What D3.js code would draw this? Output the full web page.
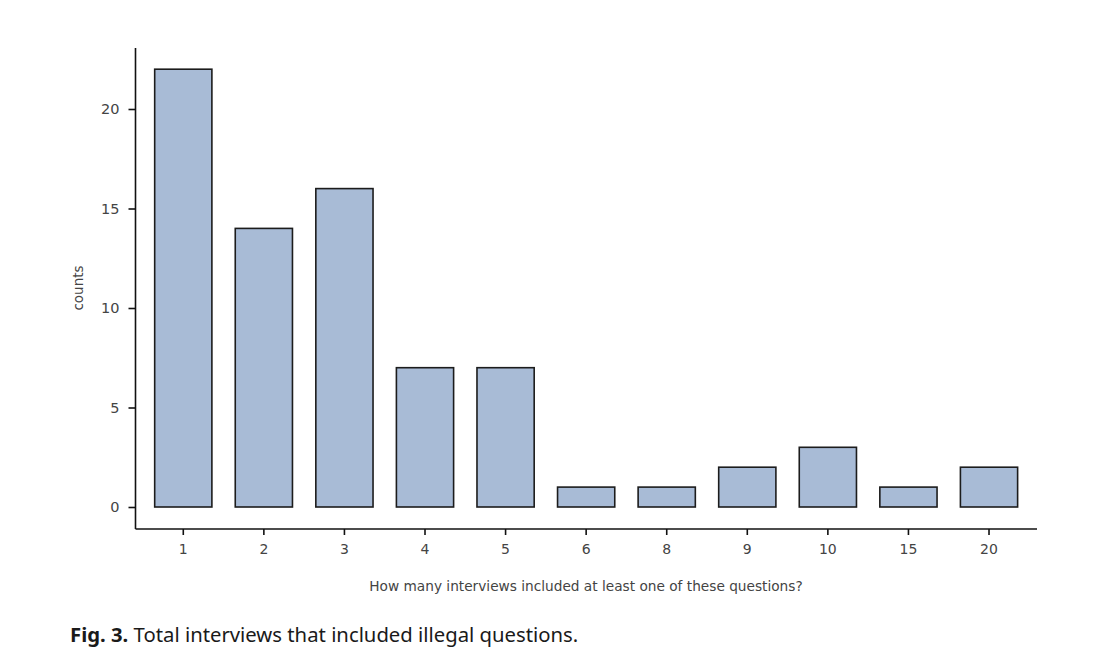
<!DOCTYPE html>
<html>
<head>
<meta charset="utf-8">
<script src="https://cdn.jsdelivr.net/npm/d3@7"></script>
<style>
  body { margin:0; background:#fff; }
  .axis text { font-family: "DejaVu Sans", sans-serif; fill:#444; }
</style>
</head>
<body>
<div id="chart"></div>
<script>
// how many interviews had at least one illegal question -> how many people said that
const categories = ["1","2","3","4","5","6","8","9","10","15","20"];
const counts = [22,14,16,7,7,1,1,2,3,1,2];
const yTicks = [0,5,10,15,20];

const W = 1116, H = 665;
const svg = d3.select("#chart").append("svg").attr("width", W).attr("height", H);

// scales are in page pixels, band range picked so tick centers land where the figure has them
const x = d3.scaleBand().domain(categories).range([143, 1029.3])
  .paddingInner(0.29).paddingOuter(0.145);
const y = d3.scaleLinear().domain([0, 20]).range([507, 109]);

// bars first so axes sit on top
svg.selectAll("rect.bar")
  .data(categories.map((c,i)=>({c, v:counts[i]})))
  .enter().append("rect")
  .attr("class","bar")
  .attr("x", d=>x(d.c))
  .attr("y", d=>y(d.v))
  .attr("width", x.bandwidth())
  .attr("height", d=>y(0)-y(d.v))
  .attr("fill","#a8bbd6")
  .attr("stroke","#1c1c1c")
  .attr("stroke-width",1.6);

// y axis: plain line from top of plot down past the zero a bit
const gy = svg.append("g").attr("class","axis").attr("transform","translate(135.5,0)");
gy.call(d3.axisLeft(y).tickValues(yTicks).tickSize(7).tickPadding(9));
gy.select(".domain").remove();
gy.append("line").attr("x1",0).attr("x2",0).attr("y1",48).attr("y2",529)
  .attr("stroke","#111").attr("stroke-width",1.6);
gy.selectAll(".tick line").attr("stroke","#111").attr("stroke-width",1.6);
gy.selectAll("text").style("font-size","14.5px");

// x axis
const gx = svg.append("g").attr("class","axis").attr("transform","translate(0,529)");
gx.call(d3.axisBottom(x).tickSize(6).tickPadding(9));
gx.select(".domain").remove();
gx.append("line").attr("x1",135.5).attr("x2",1037).attr("y1",0).attr("y2",0)
  .attr("stroke","#111").attr("stroke-width",1.6);
gx.selectAll(".tick line").attr("stroke","#111").attr("stroke-width",1.6);
gx.selectAll("text").style("font-size","14px");

// axis titles
svg.append("text").attr("x",586).attr("y",591).attr("text-anchor","middle")
  .attr("font-family","DejaVu Sans, sans-serif").style("font-size","13.7px").attr("fill","#444")
  .text("How many interviews included at least one of these questions?");
svg.append("text").attr("transform","rotate(-90)").attr("x",-288).attr("y",83)
  .attr("text-anchor","middle")
  .attr("font-family","DejaVu Sans, sans-serif").style("font-size","13.5px").attr("fill","#444")
  .text("counts");

// caption under the figure
const cap = svg.append("text").attr("x",70).attr("y",642)
  .attr("font-family","Noto Sans, sans-serif").style("font-size","20.3px").attr("fill","#1a1a1a");
cap.append("tspan").attr("font-weight","bold").text("Fig. 3.");
cap.append("tspan").text(" Total interviews that included illegal questions.");
</script>
</body>
</html>
